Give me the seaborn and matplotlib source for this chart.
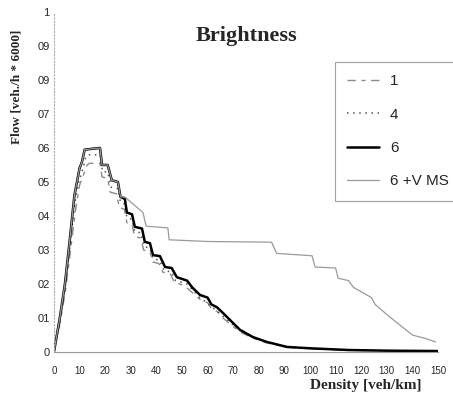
import pandas as pd
import numpy as np
import matplotlib
matplotlib.use("Agg")
import matplotlib.pyplot as plt
import seaborn as sns

# === Data ===
dens_6 = [0, 2.3, 4.3, 6.2, 8, 9, 10, 11, 12, 18, 18.8, 21, 22.6, 25, 26, 27.7, 28.5, 30.5,
          31.6, 34.4, 35.5, 37.5, 38.7, 41.4, 43.4, 46, 48, 52, 54, 57, 60, 61.5, 63.6, 66,
          67.6, 70, 72.7, 77.7, 83, 91, 100, 115, 130, 150]
flow_6 = [0, 0.1, 0.2, 0.33, 0.46, 0.5, 0.54, 0.56, 0.595, 0.6, 0.55, 0.55, 0.505, 0.5, 0.456,
          0.45, 0.41, 0.405, 0.368, 0.363, 0.324, 0.32, 0.285, 0.282, 0.25, 0.247, 0.22, 0.21,
          0.19, 0.168, 0.16, 0.14, 0.132, 0.115, 0.103, 0.085, 0.065, 0.044, 0.03, 0.015,
          0.011, 0.006, 0.004, 0.003]

dens_1 = [0, 2.5, 4.5, 6.5, 8.5, 10, 11.5, 13, 14, 18, 18.8, 21, 22, 24.5, 25.5, 27.5, 28.5,
          30.5, 31.5, 34, 35, 37.5, 38.5, 41, 42.5, 45.5, 47, 51, 54, 57, 60, 61.5, 63.6, 66,
          70, 73, 78, 83, 91, 100, 115, 130, 150]
flow_1 = [0, 0.09, 0.18, 0.3, 0.42, 0.49, 0.52, 0.55, 0.555, 0.555, 0.515, 0.51, 0.47, 0.465,
          0.425, 0.42, 0.38, 0.375, 0.34, 0.335, 0.3, 0.295, 0.265, 0.26, 0.235, 0.23, 0.205,
          0.195, 0.175, 0.155, 0.145, 0.128, 0.12, 0.1, 0.075, 0.058, 0.04, 0.027, 0.014,
          0.01, 0.005, 0.004, 0.003]

dens_4 = [0, 2.4, 4.4, 6.3, 8.2, 9.5, 11, 12.5, 14, 18, 19, 21, 22.3, 25, 26, 27.6, 28.5,
          30.5, 31.5, 34, 35.3, 37.5, 38.6, 41.2, 43, 46, 47.5, 52, 57, 63, 70, 78, 90, 100,
          120, 150]
flow_4 = [0, 0.095, 0.19, 0.315, 0.44, 0.495, 0.53, 0.575, 0.58, 0.58, 0.53, 0.53, 0.485,
          0.48, 0.44, 0.435, 0.395, 0.39, 0.355, 0.35, 0.31, 0.305, 0.275, 0.27, 0.24, 0.235,
          0.21, 0.2, 0.16, 0.125, 0.08, 0.042, 0.015, 0.01, 0.005, 0.003]

dens_vms = [0, 2.3, 4.3, 6.2, 8, 9, 10, 11, 12, 18, 18.8, 21, 22.6, 25, 26, 27.7, 34.8, 36,
            44.5, 45, 60, 85, 87, 100.8, 102, 110, 111, 115, 117, 124, 125.4, 131, 135, 140,
            145, 149]
flow_vms = [0, 0.1, 0.2, 0.33, 0.46, 0.5, 0.54, 0.56, 0.595, 0.6, 0.55, 0.55, 0.505, 0.5,
            0.456, 0.456, 0.41, 0.37, 0.365, 0.33, 0.325, 0.323, 0.29, 0.283, 0.25, 0.247,
            0.217, 0.21, 0.19, 0.16, 0.14, 0.104, 0.08, 0.05, 0.04, 0.03]

series_names = ["1", "4", "6", "6 +V MS"]
x_ticks = list(range(0, 151, 10))
y_ticks = [0, 0.1, 0.2, 0.3, 0.4, 0.5, 0.6, 0.7, 0.8, 0.9, 1.0]
y_tick_labels = ["0", "01", "02", "03", "04", "05", "06", "07", "09", "09", "1"]

sns.set_style("white")
plt.rcParams['font.family'] = ['Liberation Sans', 'DejaVu Sans']

fig = plt.figure(figsize=(4.53, 3.96), dpi=100)
ax = fig.add_axes([0.119, 0.111, 0.848, 0.859])

# === Draw the four curves ===
sns.lineplot(x=dens_1, y=flow_1, ax=ax, color="#8a8a8a", lw=1.0, sort=False,
             estimator=None, label=series_names[0], linestyle=(0, (6, 4, 3, 4)))
sns.lineplot(x=dens_4, y=flow_4, ax=ax, color="#555555", lw=1.1, sort=False,
             estimator=None, label=series_names[1], linestyle=(0, (1, 3)))
sns.lineplot(x=dens_6, y=flow_6, ax=ax, color="black", lw=1.8, sort=False,
             estimator=None, label=series_names[2])
sns.lineplot(x=dens_vms, y=flow_vms, ax=ax, color="#9a9a9a", lw=0.9, sort=False,
             estimator=None, label=series_names[3])

ax.set_xlim(0, 150)
ax.set_ylim(0, 1.0)
ax.set_xticks(x_ticks)
ax.set_xticklabels([str(t) for t in x_ticks], fontsize=7)
ax.set_yticks(y_ticks)
ax.set_yticklabels(y_tick_labels, fontsize=8)
ax.tick_params(axis='both', length=2, width=0.6, color="#888888")
ax.tick_params(axis='x', pad=8)
ax.tick_params(axis='y', pad=1)

for s in ["top", "right"]:
    ax.spines[s].set_visible(False)
ax.spines["left"].set_color("#aaaaaa")
ax.spines["left"].set_linestyle((0, (1, 2)))
ax.spines["left"].set_linewidth(0.8)
ax.spines["bottom"].set_color("#999999")
ax.spines["bottom"].set_linewidth(0.8)

ax.set_title("Brightness", fontfamily="Liberation Serif", fontweight="bold",
             fontsize=16, x=0.5, y=0.89)
ax.set_ylabel("Flow [veh./h * 6000]", fontfamily="Liberation Serif", fontweight="bold",
              fontsize=9.5)
ax.yaxis.set_label_coords(-0.083, 0.78)
ax.set_xlabel("Density [veh/km]", fontfamily="Liberation Serif", fontweight="bold",
              fontsize=11)
ax.xaxis.set_label_coords(0.956, -0.078)
ax.xaxis.label.set_horizontalalignment("right")

leg = ax.legend(loc="upper left", bbox_to_anchor=(0.732, 0.0, 0.4, 0.853), fontsize=11,
                mode="expand", frameon=True, fancybox=False, labelspacing=1.27,
                handlelength=2.1, handletextpad=0.7, borderpad=0.8, borderaxespad=0)
leg.get_frame().set_edgecolor("#888888")
leg.get_frame().set_linewidth(0.8)

fig.savefig("out.png", dpi=100)
